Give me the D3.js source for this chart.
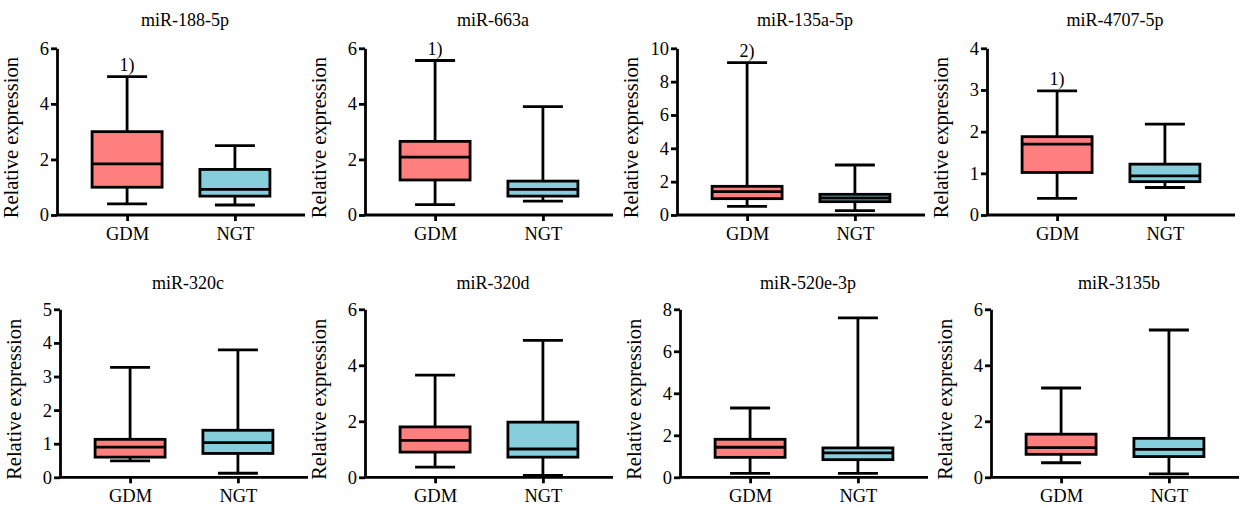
<!DOCTYPE html>
<html>
<head>
<meta charset="utf-8">
<script src="https://cdn.jsdelivr.net/npm/d3@7"></script>
<style>
  html, body { margin: 0; padding: 0; background: #fff; }
  svg { display: block; }
  svg text { font-family: "Liberation Serif", "Times New Roman", serif; fill: #000; }
</style>
</head>
<body>
<svg id="chart" width="1240" height="510"></svg>
<script>
// ---- data ----
const titles = ["miR-188-5p", "miR-663a", "miR-135a-5p", "miR-4707-5p",
                "miR-320c", "miR-320d", "miR-520e-3p", "miR-3135b"];
const groups = ["GDM", "NGT"];
const yMax = [6, 6, 10, 4, 5, 6, 8, 6];
const yTickStep = [2, 2, 2, 1, 1, 2, 2, 2];
const annotations = ["1)", "1)", "2)", "1)", "", "", "", ""];

const gdmMin = [0.40, 0.37, 0.52, 0.40, 0.49, 0.36, 0.19, 0.52];
const gdmQ1  = [1.00, 1.26, 0.98, 1.02, 0.60, 0.90, 0.95, 0.82];
const gdmMed = [1.84, 2.08, 1.40, 1.70, 0.90, 1.32, 1.43, 1.06];
const gdmQ3  = [3.00, 2.65, 1.72, 1.88, 1.13, 1.80, 1.81, 1.54];
const gdmMax = [4.98, 5.56, 9.14, 2.98, 3.27, 3.65, 3.30, 3.19];

const ngtMin = [0.36, 0.50, 0.26, 0.66, 0.12, 0.07, 0.19, 0.12];
const ngtQ1  = [0.68, 0.68, 0.80, 0.80, 0.71, 0.72, 0.84, 0.74];
const ngtMed = [0.92, 0.92, 1.02, 0.94, 1.03, 1.01, 1.16, 1.00];
const ngtQ3  = [1.64, 1.22, 1.24, 1.22, 1.40, 1.97, 1.40, 1.39];
const ngtMax = [2.50, 3.90, 3.00, 2.18, 3.79, 4.89, 7.59, 5.26];

// ---- layout ----
const axisX = [57, 365, 677, 987, 60, 365, 680, 991];
const rowTop = [48.3, 309.3];
const rowZero = [215, 477.3];
const titleY = [26, 289];
const plotW = 248;
const boxW = 70, capW = 40;
const colors = {GDM: "#FF7F7F", NGT: "#86CEDB"};
const lw = 2.8;
const FONT = "Liberation Serif, Times New Roman, serif";

const svg = d3.select("#chart");

titles.forEach((title, i) => {
  const row = i < 4 ? 0 : 1;
  const g = svg.append("g").attr("transform", `translate(${axisX[i]},0)`);
  const y = d3.scaleLinear().domain([0, yMax[i]]).range([rowZero[row], rowTop[row]]);
  const x = d3.scalePoint().domain(groups).range([0, plotW]).padding(0.65);

  const stats = [
    {grp: "GDM", min: gdmMin[i], q1: gdmQ1[i], med: gdmMed[i], q3: gdmQ3[i], max: gdmMax[i]},
    {grp: "NGT", min: ngtMin[i], q1: ngtQ1[i], med: ngtMed[i], q3: ngtQ3[i], max: ngtMax[i]}
  ];

  stats.forEach(s => {
    const cx = x(s.grp);
    const bg = g.append("g").attr("stroke", "#000").attr("stroke-width", lw).attr("fill", "none");
    bg.append("line").attr("x1", cx).attr("x2", cx).attr("y1", y(s.max)).attr("y2", y(s.q3));
    bg.append("line").attr("x1", cx).attr("x2", cx).attr("y1", y(s.q1)).attr("y2", y(s.min));
    bg.append("line").attr("x1", cx - capW / 2).attr("x2", cx + capW / 2).attr("y1", y(s.max)).attr("y2", y(s.max));
    bg.append("line").attr("x1", cx - capW / 2).attr("x2", cx + capW / 2).attr("y1", y(s.min)).attr("y2", y(s.min));
    bg.append("rect").attr("x", cx - boxW / 2).attr("width", boxW)
      .attr("y", y(s.q3)).attr("height", y(s.q1) - y(s.q3))
      .attr("fill", colors[s.grp]);
    bg.append("line").attr("x1", cx - boxW / 2).attr("x2", cx + boxW / 2).attr("y1", y(s.med)).attr("y2", y(s.med));
  });

  const ticks = d3.range(0, yMax[i] + 1e-9, yTickStep[i]);
  const ya = g.append("g").call(d3.axisLeft(y).tickValues(ticks).tickSize(6).tickSizeOuter(0).tickPadding(2).tickFormat(d3.format("d")));
  ya.attr("font-family", FONT);
  ya.selectAll("path, line").attr("stroke", "#000").attr("stroke-width", lw);
  ya.selectAll("text").attr("font-size", 18.5).attr("font-family", FONT).attr("fill", "#000");

  const xa = g.append("g").attr("transform", `translate(0,${rowZero[row]})`)
    .call(d3.axisBottom(x).tickSize(6).tickSizeOuter(0).tickPadding(6));
  xa.attr("font-family", FONT);
  xa.select(".domain").attr("d", `M0,0H${plotW}`);
  xa.selectAll("path, line").attr("stroke", "#000").attr("stroke-width", lw);
  xa.selectAll("text").attr("font-size", 18.5).attr("font-family", FONT).attr("fill", "#000");

  const midY = (rowTop[row] + rowZero[row]) / 2 + 6;
  g.append("text")
    .attr("transform", `translate(${-39},${midY}) rotate(-90)`)
    .attr("text-anchor", "middle")
    .attr("font-family", FONT)
    .attr("font-size", 20.5)
    .text("Relative expression");

  g.append("text")
    .attr("x", plotW / 2 + 4).attr("y", titleY[row])
    .attr("text-anchor", "middle")
    .attr("font-family", FONT)
    .attr("font-size", 18)
    .text(title);

  if (annotations[i]) {
    g.append("text")
      .attr("x", x("GDM")).attr("y", y(gdmMax[i]) - 6)
      .attr("text-anchor", "middle")
      .attr("font-family", FONT)
      .attr("font-size", 18)
      .text(annotations[i]);
  }
});
</script>
</body>
</html>
